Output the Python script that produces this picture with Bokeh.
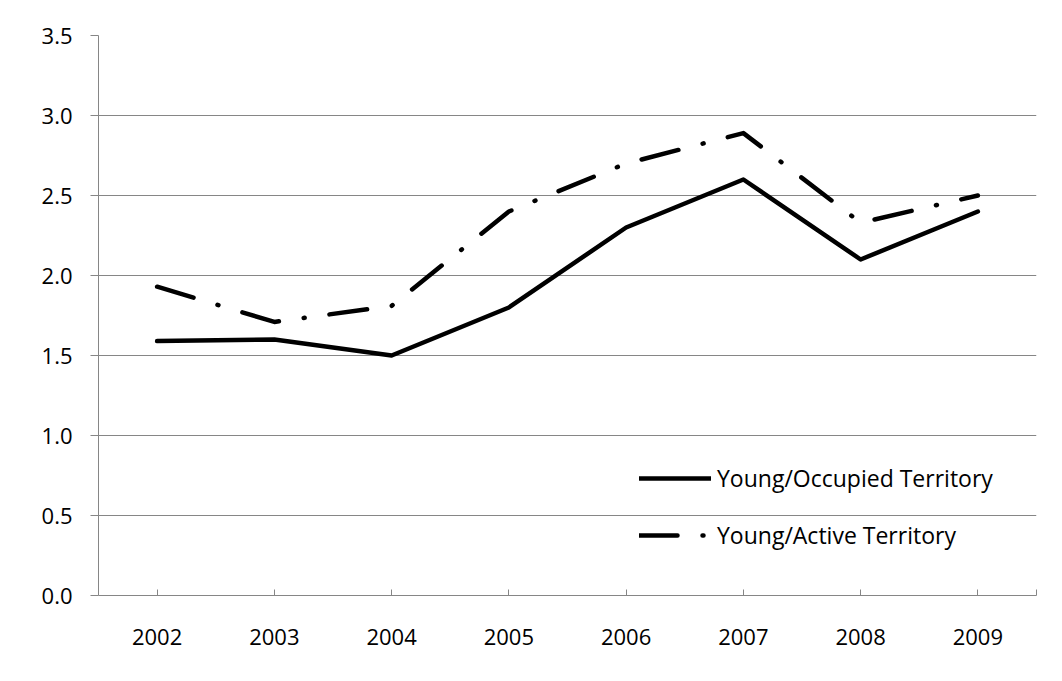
from bokeh.plotting import figure
from bokeh.models import (FixedTicker, Legend, LegendItem, NumeralTickFormatter,
                          Range1d)
from bokeh.embed import file_html
from bokeh.resources import INLINE

# ---- data ----
years = ["2002", "2003", "2004", "2005", "2006", "2007", "2008", "2009"]
young_occupied = [1.59, 1.60, 1.50, 1.80, 2.30, 2.60, 2.10, 2.40]
young_active = [1.93, 1.71, 1.81, 2.40, 2.70, 2.89, 2.33, 2.50]
y_ticks = [0.0, 0.5, 1.0, 1.5, 2.0, 2.5, 3.0, 3.5]
series_labels = ["Young/Occupied Territory", "Young/Active Territory"]

FONT = "Open Sans"
GRAY = "#868686"

xs = list(range(len(years)))

p = figure(width=1046, height=665, output_backend="svg", toolbar_location=None,
           x_range=Range1d(-0.5, len(years) - 0.5),
           y_range=Range1d(y_ticks[0], y_ticks[-1]),
           min_border_left=98, min_border_right=10,
           min_border_top=35, min_border_bottom=70)
p.outline_line_color = None
p.background_fill_color = "white"
p.border_fill_color = "white"

r1 = p.line(xs, young_occupied, line_color="black", line_width=4.5,
            line_join="round", line_cap="round")
r2 = p.line(xs, young_active, line_color="black", line_width=4.5,
            line_join="round", line_cap="round", line_dash="38 25 1 25")

# grid
p.xgrid.visible = False
p.ygrid.ticker = FixedTicker(ticks=y_ticks)
p.ygrid.grid_line_color = GRAY
p.ygrid.grid_line_width = 1

# y axis
ya = p.yaxis[0]
ya.ticker = FixedTicker(ticks=y_ticks)
ya.formatter = NumeralTickFormatter(format="0.0")
ya.axis_line_color = GRAY
ya.major_tick_line_color = GRAY
ya.major_tick_out = 8
ya.major_tick_in = 0
ya.minor_tick_line_color = None
ya.major_label_standoff = 18
ya.major_label_text_font = FONT
ya.major_label_text_font_size = "22px"
ya.major_label_text_color = "black"

# x axis
xa = p.xaxis[0]
end_tick = len(years) - 0.5
xa.ticker = FixedTicker(ticks=xs + [end_tick])
overrides = {i: y for i, y in enumerate(years)}
overrides[end_tick] = ""
xa.major_label_overrides = overrides
xa.axis_line_color = GRAY
xa.major_tick_line_color = GRAY
xa.major_tick_in = 6
xa.major_tick_out = 0
xa.minor_tick_line_color = None
xa.major_label_standoff = 33
xa.major_label_text_font = FONT
xa.major_label_text_font_size = "22px"
xa.major_label_text_color = "black"

legend = Legend(items=[LegendItem(label=series_labels[0], renderers=[r1]),
                       LegendItem(label=series_labels[1], renderers=[r2])],
                location=(541, 44), orientation="vertical",
                glyph_width=72, glyph_height=26, label_height=26,
                label_standoff=6, spacing=25, padding=0, margin=0,
                border_line_color=None, background_fill_alpha=0,
                label_text_font=FONT, label_text_font_size="23px",
                label_text_color="black")
p.add_layout(legend)

open("out.html", "w").write(file_html(p, INLINE))
